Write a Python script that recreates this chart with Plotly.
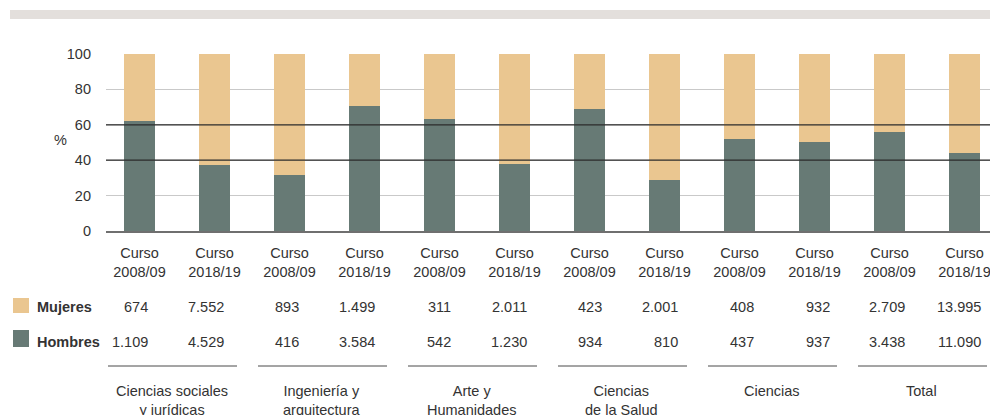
import plotly.graph_objects as go

# ---- data ----
groups = ["Ciencias sociales<br>y jurídicas", "Ingeniería y<br>arquitectura", "Arte y<br>Humanidades",
          "Ciencias<br>de la Salud", "Ciencias", "Total"]
cursos = ["Curso<br>2008/09", "Curso<br>2018/19"]
mujeres = [674, 7552, 893, 1499, 311, 2011, 423, 2001, 408, 932, 2709, 13995]
hombres = [1109, 4529, 416, 3584, 542, 1230, 934, 810, 437, 937, 3438, 11090]
y_ticks = [0, 20, 40, 60, 80, 100]

C_M = "#eac690"
C_H = "#677a75"
FONT = "Liberation Sans, Arial, sans-serif"
FS = 14.5
TXT = "#333333"

W, H = 990, 415
L, R, T, B = 106, 0, 54, 184
PW, PH = W - L - R, H - T - B


def px_x(x):
    return (x - L) / PW


def px_y(y):
    return (H - B - y) / PH


def fmt(v):
    return f"{v:,}".replace(",", ".")


n = len(mujeres)
xs = list(range(n))
ticktext = [cursos[i % 2] for i in xs]

fig = go.Figure()
fig.add_bar(x=xs, y=hombres, name="Hombres", marker_color=C_H, width=0.41,
            marker_line_width=0)
fig.add_bar(x=xs, y=mujeres, name="Mujeres", marker_color=C_M, width=0.41,
            marker_line_width=0)

shapes = []
annotations = []

# top band
shapes.append(dict(type="rect", xref="paper", yref="paper", x0=px_x(10), x1=px_x(990),
                   y0=px_y(19), y1=px_y(10), fillcolor="#e3dfdc", line_width=0, layer="above"))
# dark reference lines at 40 and 60
for yv in (40, 60):
    shapes.append(dict(type="line", xref="paper", yref="y", x0=0, x1=1, y0=yv, y1=yv,
                       line=dict(color="#2b2b2b", width=1.3), layer="above"))

# "%" label
annotations.append(dict(text="%", xref="paper", yref="paper", x=px_x(52), y=px_y(140),
                        showarrow=False, font=dict(family=FONT, size=FS, color=TXT)))

# legend squares + row labels
rows = [("Mujeres", C_M, mujeres, 298, 313, 306.5), ("Hombres", C_H, hombres, 330, 347, 341.5)]
for name, col, vals, y0, y1, yc in rows:
    shapes.append(dict(type="rect", xref="paper", yref="paper", x0=px_x(13), x1=px_x(29),
                       y0=px_y(y1), y1=px_y(y0), fillcolor=col, line_width=0))
    annotations.append(dict(text=f"<b>{name}</b>", xref="paper", yref="paper", x=px_x(35),
                            y=px_y(yc), xanchor="left", yanchor="middle", showarrow=False,
                            font=dict(family=FONT, size=FS, color=TXT)))
    for i, v in enumerate(vals):
        annotations.append(dict(text=fmt(v), xref="x", yref="paper", x=i + 0.14 + 0.0097 * i,
                                y=px_y(yc), xanchor="right", yanchor="middle", showarrow=False,
                                font=dict(family=FONT, size=FS, color=TXT)))

# group lines + labels
for k, g in enumerate(groups):
    x0p, x1p = 108 + 150 * k, 237 + 150 * k
    shapes.append(dict(type="line", xref="paper", yref="paper", x0=px_x(x0p), x1=px_x(x1p),
                       y0=px_y(366), y1=px_y(366), line=dict(color="#4a4a4a", width=1)))
    annotations.append(dict(text=g, xref="paper", yref="paper", x=px_x((x0p + x1p) / 2 - 1),
                            y=px_y(381), xanchor="center", yanchor="top", showarrow=False,
                            font=dict(family=FONT, size=FS, color=TXT)))

fig.update_layout(
    width=W, height=H,
    margin=dict(l=L, r=R, t=T, b=B, pad=0),
    barmode="stack", barnorm="percent",
    plot_bgcolor="white", paper_bgcolor="white",
    showlegend=False,
    font=dict(family=FONT, size=FS, color=TXT),
    shapes=shapes, annotations=annotations,
    xaxis=dict(range=[(L - 139.5) / 75, (W - R - 139.5) / 75], tickvals=xs, ticktext=ticktext,
               showgrid=False, showline=True, linecolor="#6f6f6f", linewidth=2,
               ticks="", ticklabelstandoff=8, ticklabeloverflow="allow", zeroline=False,
               fixedrange=True),
    yaxis=dict(range=[0, 100], tickvals=y_ticks, showgrid=True, gridcolor="#c9c9c9",
               gridwidth=1.3, zeroline=False, ticks="", ticklabelstandoff=14,
               fixedrange=True),
)

fig.write_html("out.html", config={"displayModeBar": False},
               post_script="document.body.style.margin='0';document.body.style.overflow='hidden';")
